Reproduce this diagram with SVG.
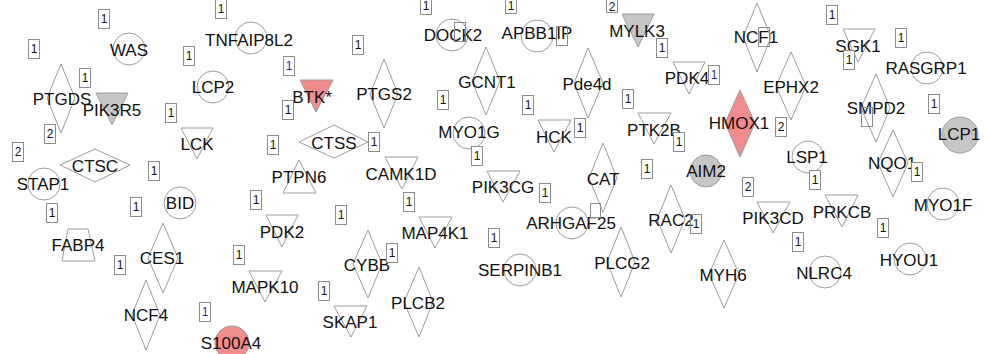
<svg xmlns="http://www.w3.org/2000/svg" width="984" height="354" viewBox="0 0 984 354">
<style>
.s{fill:#fff;stroke:#9c9c9c;stroke-width:1}
.pk{fill:#f28b8b}
.gy{fill:#c6c6c6}
.t{font-family:"Liberation Sans",Arial,sans-serif;font-size:17px;fill:#111;text-anchor:middle;dominant-baseline:central}
.b rect{fill:#fff;stroke:#8c8c8c;stroke-width:1}
.b rect.o{fill:none}
.b text{font-family:"Liberation Sans",Arial,sans-serif;font-size:12px;fill:#111;text-anchor:middle;dominant-baseline:central}
.b text.bl{fill:#2a2aa8}
</style>
<rect width="984" height="354" fill="#fff"/>
<g id="connectors"></g>
<g id="nodes">
<g id="WAS"><circle class="s" cx="129" cy="49" r="16"/><text class="t" x="129" y="50">WAS</text></g>
<g id="TNFAIP8L2"><circle class="s" cx="251" cy="38" r="16"/><text class="t" x="249" y="40">TNFAIP8L2</text></g>
<g id="LCP2"><circle class="s" cx="213" cy="87" r="16"/><text class="t" x="213" y="87">LCP2</text></g>
<g id="STAP1"><circle class="s" cx="44" cy="184" r="16"/><text class="t" x="43" y="184">STAP1</text></g>
<g id="BID"><circle class="s" cx="180" cy="203" r="16"/><text class="t" x="180" y="203">BID</text></g>
<g id="S100A4"><circle class="s pk" cx="232" cy="343" r="17"/><text class="t" x="231" y="343">S100A4</text></g>
<g id="DOCK2"><circle class="s" cx="452" cy="35" r="16"/><text class="t" x="453" y="35">DOCK2</text></g>
<g id="APBB1IP"><circle class="s" cx="537" cy="36" r="16"/><text class="t" x="537" y="33">APBB1IP</text></g>
<g id="MYO1G"><circle class="s" cx="469" cy="133" r="16"/><text class="t" x="469" y="132">MYO1G</text></g>
<g id="ARHGAF25"><circle class="s" cx="572" cy="223" r="16"/><text class="t" x="571" y="223">ARHGAF25</text></g>
<g id="SERPINB1"><circle class="s" cx="520" cy="270" r="16"/><text class="t" x="520" y="270">SERPINB1</text></g>
<g id="AIM2"><circle class="s gy" cx="706" cy="171" r="16"/><text class="t" x="706" y="171">AIM2</text></g>
<g id="LSP1"><circle class="s" cx="808" cy="157" r="16"/><text class="t" x="807" y="157">LSP1</text></g>
<g id="NLRC4"><circle class="s" cx="825" cy="272" r="16"/><text class="t" x="824" y="273">NLRC4</text></g>
<g id="HYOU1"><circle class="s" cx="910" cy="259" r="16"/><text class="t" x="909" y="260">HYOU1</text></g>
<g id="MYO1F"><circle class="s" cx="943" cy="204" r="16"/><text class="t" x="943" y="205">MYO1F</text></g>
<g id="RASGRP1"><circle class="s" cx="927" cy="68" r="16"/><text class="t" x="926" y="68">RASGRP1</text></g>
<g id="LCP1"><circle class="s gy" cx="960" cy="135" r="18"/><text class="t" x="959" y="134">LCP1</text></g>

<g id="PTGDS"><polygon class="s" points="61,64 75,98 61,133 47,98"/><text class="t" x="62" y="99">PTGDS</text></g>
<g id="PTGS2"><polygon class="s" points="384,59 398,94 384,128 370,94"/><text class="t" x="384" y="94">PTGS2</text></g>
<g id="GCNT1"><polygon class="s" points="486,47 500,81 486,115 472,81"/><text class="t" x="487" y="82">GCNT1</text></g>
<g id="Pde4d"><polygon class="s" points="588,48 603,83 588,118 574,83"/><text class="t" x="587" y="84">Pde4d</text></g>
<g id="CAT"><polygon class="s" points="603,143 617,178 603,212 589,178"/><text class="t" x="603" y="179">CAT</text></g>
<g id="HMOX1"><polygon class="s pk" points="740,90 755,123 740,157 725,123"/><text class="t" x="739" y="123">HMOX1</text></g>
<g id="NCF1"><polygon class="s" points="757,3 771,37 757,72 743,37"/><text class="t" x="756" y="37">NCF1</text></g>
<g id="EPHX2"><polygon class="s" points="791,52 806,86 791,120 776,86"/><text class="t" x="791" y="87">EPHX2</text></g>
<g id="SMPD2"><polygon class="s" points="876,74 890,108 876,142 861,108"/><text class="t" x="876" y="108">SMPD2</text></g>
<g id="NQO1"><polygon class="s" points="893,130 908,163 893,197 878,163"/><text class="t" x="892" y="163">NQO1</text></g>
<g id="RAC2"><polygon class="s" points="671,185 685,219 671,253 657,219"/><text class="t" x="671" y="220">RAC2</text></g>
<g id="MYH6"><polygon class="s" points="724,240 739,274 724,308 709,274"/><text class="t" x="723" y="275">MYH6</text></g>
<g id="PLCG2"><polygon class="s" points="621,227 635,262 621,297 607,262"/><text class="t" x="622" y="263">PLCG2</text></g>
<g id="CES1"><polygon class="s" points="163,223 178,258 163,293 148,258"/><text class="t" x="162" y="258">CES1</text></g>
<g id="NCF4"><polygon class="s" points="146,280 160,315 146,350 132,315"/><text class="t" x="146" y="315">NCF4</text></g>
<g id="CYBB"><polygon class="s" points="368,230 382,264 368,298 353,264"/><text class="t" x="367" y="265">CYBB</text></g>
<g id="PLCB2"><polygon class="s" points="419,267 433,302 419,337 404,302"/><text class="t" x="418" y="303">PLCB2</text></g>
<g id="CTSC"><polygon class="s" points="60,165 95,149 130,165 95,182"/><text class="t" x="95" y="166">CTSC</text></g>
<g id="CTSS"><polygon class="s" points="299,142 334,125 368,142 334,158"/><text class="t" x="334" y="143">CTSS</text></g>

<g id="PIK3R5"><polygon class="s gy" points="96,93 128,93 112,125"/><text class="t" x="112" y="110">PIK3R5</text></g>
<g id="LCK"><polygon class="s" points="181,128 213,128 197,159"/><text class="t" x="197" y="144">LCK</text></g>
<g id="BTK"><polygon class="s pk" points="300,80 333,80 316,112"/><text class="t" x="312" y="97">BTK*</text></g>
<g id="CAMK1D"><polygon class="s" points="385,157 418,157 402,189"/><text class="t" x="401" y="174">CAMK1D</text></g>
<g id="MAP4K1"><polygon class="s" points="419,217 452,217 435,248"/><text class="t" x="435" y="233">MAP4K1</text></g>
<g id="PIK3CG"><polygon class="s" points="487,171 520,171 503,202"/><text class="t" x="503" y="187">PIK3CG</text></g>
<g id="HCK"><polygon class="s" points="538,120 571,120 554,152"/><text class="t" x="554" y="137">HCK</text></g>
<g id="MYLK3"><polygon class="s gy" points="622,14 654,14 638,47"/><text class="t" x="637" y="31">MYLK3</text></g>
<g id="PDK4"><polygon class="s" points="673,62 705,62 689,94"/><text class="t" x="687" y="78">PDK4</text></g>
<g id="PTK2B"><polygon class="s" points="638,113 671,113 654,144"/><text class="t" x="654" y="130">PTK2B</text></g>
<g id="PIK3CD"><polygon class="s" points="757,202 790,202 773,233"/><text class="t" x="773" y="218">PIK3CD</text></g>
<g id="PRKCB"><polygon class="s" points="825,195 858,195 842,227"/><text class="t" x="842" y="212">PRKCB</text></g>
<g id="SGK1"><polygon class="s" points="843,29 875,29 858,62"/><text class="t" x="858" y="46">SGK1</text></g>
<g id="PDK2"><polygon class="s" points="266,215 298,215 282,247"/><text class="t" x="282" y="232">PDK2</text></g>
<g id="MAPK10"><polygon class="s" points="249,271 282,271 265,302"/><text class="t" x="265" y="287">MAPK10</text></g>
<g id="SKAP1"><polygon class="s" points="334,306 367,306 351,337"/><text class="t" x="350" y="322">SKAP1</text></g>
<g id="PTPN6"><polygon class="s" points="299,160 316,193 283,193"/><text class="t" x="299" y="177">PTPN6</text></g>
<g id="FABP4"><polygon class="s" points="68,229 88,229 95,261 62,261"/><text class="t" x="78" y="245">FABP4</text></g>
</g>
<g id="count-boxes" class="b">
<rect x="98.5" y="9.5" width="11" height="19"/><text x="104" y="19">1</text>
<rect x="28.5" y="39.5" width="11" height="19"/><text x="34" y="49">1</text>
<rect x="183.5" y="46.5" width="11" height="19"/><text x="189" y="56">1</text>
<rect x="215.5" y="-0.5" width="11" height="19"/><text x="221" y="9">1</text>
<rect x="79.5" y="68.5" width="11" height="19"/><text x="85" y="78">1</text>
<rect x="165.5" y="103.5" width="11" height="19"/><text x="171" y="113">1</text>
<rect x="44.5" y="124.5" width="11" height="19"/><text x="50" y="134">2</text>
<rect x="12.5" y="142.5" width="11" height="19"/><text x="18" y="152">2</text>
<rect x="148.5" y="161.5" width="11" height="19"/><text x="154" y="171">1</text>
<rect x="130.5" y="197.5" width="11" height="19"/><text x="136" y="207">1</text>
<rect x="46.5" y="203.5" width="11" height="19"/><text x="52" y="213">1</text>
<rect x="114.5" y="255.5" width="11" height="19"/><text x="120" y="265">1</text>
<rect x="199.5" y="302.5" width="11" height="19"/><text class="bl" x="205" y="312">1</text>
<rect x="283.5" y="56.5" width="11" height="19"/><text class="bl" x="289" y="66">1</text>
<rect x="282.5" y="100.5" width="11" height="19"/><text x="288" y="110">1</text>
<rect x="267.5" y="135.5" width="11" height="19"/><text x="273" y="145">1</text>
<rect x="352.5" y="35.5" width="11" height="19"/><text x="358" y="45">1</text>
<rect x="368.5" y="132.5" width="11" height="19"/><text x="374" y="142">1</text>
<rect x="250.5" y="190.5" width="11" height="19"/><text x="256" y="200">1</text>
<rect x="233.5" y="245.5" width="11" height="19"/><text x="239" y="255">1</text>
<rect x="335.5" y="205.5" width="11" height="19"/><text x="341" y="215">1</text>
<rect x="386.5" y="243.5" width="11" height="19"/><text x="392" y="253">1</text>
<rect x="318.5" y="281.5" width="11" height="19"/><text x="324" y="291">1</text>
<rect x="403.5" y="192.5" width="11" height="19"/><text x="409" y="202">1</text>
<rect x="437.5" y="90.5" width="11" height="19"/><text x="443" y="100">1</text>
<rect x="471.5" y="146.5" width="11" height="19"/><text x="477" y="156">1</text>
<rect x="488.5" y="228.5" width="11" height="19"/><text x="494" y="238">1</text>
<rect x="420.5" y="-4.5" width="11" height="19"/><text x="426" y="6">1</text>
<rect x="505.5" y="-5.5" width="11" height="19"/><text x="511" y="5.5">1</text>
<rect x="606.5" y="-6.5" width="11" height="19"/><text x="612" y="6.5">2</text>
<rect class="o" x="454.5" y="22.5" width="11" height="19"/>
<rect class="o" x="556.5" y="26.5" width="11" height="19"/>
<rect x="656.5" y="38.5" width="11" height="19"/><text x="662" y="48">1</text>
<rect class="o" x="708.5" y="65.5" width="11" height="19"/><text class="bl" x="714" y="75">1</text>
<rect x="622.5" y="89.5" width="11" height="19"/><text x="628" y="99">1</text>
<rect x="522.5" y="95.5" width="11" height="19"/><text x="528" y="105">1</text>
<rect x="574.5" y="118.5" width="11" height="19"/><text x="580" y="128">1</text>
<rect x="673.5" y="132.5" width="11" height="19"/><text x="679" y="142">1</text>
<rect x="641.5" y="159.5" width="11" height="19"/><text x="647" y="169">1</text>
<rect x="539.5" y="183.5" width="11" height="19"/><text x="545" y="193">1</text>
<rect class="o" x="590.5" y="203.5" width="10" height="14"/>
<rect class="o" x="690.5" y="214.5" width="11" height="19"/><text x="696" y="224">1</text>
<rect x="775.5" y="117.5" width="11" height="19"/><text x="781" y="127">2</text>
<rect x="742.5" y="177.5" width="11" height="19"/><text x="748" y="187">2</text>
<rect x="809.5" y="170.5" width="11" height="19"/><text x="815" y="180">1</text>
<rect x="792.5" y="232.5" width="11" height="19"/><text x="798" y="242">1</text>
<rect x="877.5" y="218.5" width="11" height="19"/><text x="883" y="228">1</text>
<rect x="911.5" y="162.5" width="11" height="19"/><text x="917" y="172">1</text>
<rect x="928.5" y="94.5" width="11" height="19"/><text x="934" y="104">1</text>
<rect x="895.5" y="28.5" width="11" height="19"/><text x="901" y="38">1</text>
<rect x="826.5" y="5.5" width="11" height="19"/><text x="832" y="15">1</text>
<rect x="843.5" y="50.5" width="11" height="19"/><text x="849" y="60">1</text>
<rect class="o" x="861.5" y="107.5" width="11" height="19"/>
<rect class="o" x="758.5" y="27.5" width="11" height="19"/>
</g>
</svg>
